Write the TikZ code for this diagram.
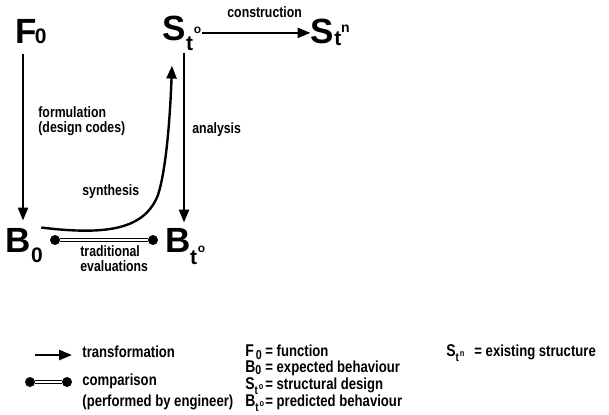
\documentclass[tikz,border=0pt]{standalone}
\usepackage{fontspec}
\setmainfont{Liberation Sans}
\newfontfamily\narrowsans[FakeStretch=0.82]{Liberation Sans}
\usetikzlibrary{arrows.meta}
\tikzset{>={Triangle[length=6.5pt,width=5pt]}}
\tikzset{
  sym/.style={inner sep=0pt,anchor=base west,font=\fontsize{17.5}{18}\selectfont\bfseries},
  lab/.style={inner sep=0pt,anchor=base west,align=left,font=\narrowsans\fontsize{7.5}{7.5}\selectfont\bfseries},
  leg/.style={inner sep=0pt,anchor=base west,font=\narrowsans\fontsize{8}{9}\selectfont\bfseries},
  defsym/.style={inner sep=0pt,anchor=base west,font=\narrowsans\fontsize{8.5}{10}\selectfont\bfseries},
  trans/.style={->,line width=1.2pt},
  comp/.style={double,double distance=0.8pt,line width=0.6pt},
  dot/.style={circle,fill,inner sep=0pt,minimum size=5pt}
}
% size, raise, text
\newcommand{\idx}[3]{\raisebox{#2}{\fontsize{#1}{#1}\selectfont #3}}

\begin{document}
\begin{tikzpicture}[x=0.5pt,y=-0.5pt]
\useasboundingbox (0,0) rectangle (609,414);
% main scheme
\node[sym] (F0) at (15,43) {F\kern-1pt\idx{10.5}{0pt}{0}};
\node[sym] (St0) at (162.5,40) {S\idx{10.5}{-5pt}{t}\kern0.3pt\idx{6}{3.5pt}{o}};
\node[sym] (Stn) at (310.5,43) {S\idx{10.5}{-1pt}{t}\idx{7}{5.5pt}{n}};
\node[sym] (B0) at (5.5,252) {B\idx{10.5}{-5pt}{0}};
\node[sym] (Bt0) at (165.5,252) {B\kern-0.5pt\idx{10.5}{-6pt}{t}\kern0.3pt\idx{6}{0pt}{o}};
\draw[trans] ([shift={(8,10)}]F0.south west) -- ([shift={(17.5,-7)}]B0.north west);
\draw[trans] ([shift={(21.5,2)}]St0.south west) -- ([shift={(18.5,-5)}]Bt0.north west);
\draw[trans] (St0.east) -- (St0.east -| Stn.west);
\draw[trans] ([xshift=-1pt]B0.north east) .. controls (110,236) and (145,228) .. (158,195)
  .. controls (166,170) and (170,120) .. ([shift={(9.5,15)}]St0.south west);
\node[dot] (c1) at (55,240) {};
\node[dot] (c2) at (153,240) {};
\draw[comp] (c1) -- (c2);
\node[lab] (con) at (227,17) {construction};
\node[lab,anchor=north west] (form) at (38,106) {formulation\\(design codes)};
\node[lab] (ana) at (192,133) {analysis};
\node[lab] (syn) at (82,195) {synthesis};
\node[lab,anchor=north west] (trad) at (80,245) {traditional\\evaluations};
% legend
\coordinate (ta) at (35,355);
\coordinate (tb) at (72,355);
\draw[trans] (ta) -- (tb);
\node[leg] (ltrans) at (82,357) {transformation};
\node[dot] (la) at (30,382) {};
\node[dot] (lb) at (67,382) {};
\draw[comp] (la) -- (lb);
\node[leg] (lcomp) at (82,385) {comparison};
\node[leg] (lperf) at (82,406) {(performed by engineer)};
\node[defsym] (dF) at (245,356) {F\kern1pt\idx{6.5}{-1.5pt}{0}};
\node[defsym] (dB) at (245,372) {B\idx{6.5}{-1pt}{0}};
\node[defsym] (dS) at (245,389) {S\idx{6}{-2.5pt}{t}\kern0.5pt\idx{4.5}{0pt}{o}};
\node[defsym] (dBt) at (245,406) {B\idx{6}{-2.5pt}{t}\kern0.5pt\idx{4.5}{0pt}{o}};
\node[leg] (tF) at (265,356) {= function};
\node[leg] (tB) at (265,372) {= expected behaviour};
\node[leg] (tS) at (265,389) {= structural design};
\node[leg] (tBt) at (265,406) {= predicted behaviour};
\node[defsym] (dSn) at (446,356) {S\idx{6}{-2.5pt}{t}\kern0.5pt\idx{4.5}{0pt}{n}};
\node[leg] (tSn) at (474,356) {= existing structure};
\end{tikzpicture}
\end{document}
